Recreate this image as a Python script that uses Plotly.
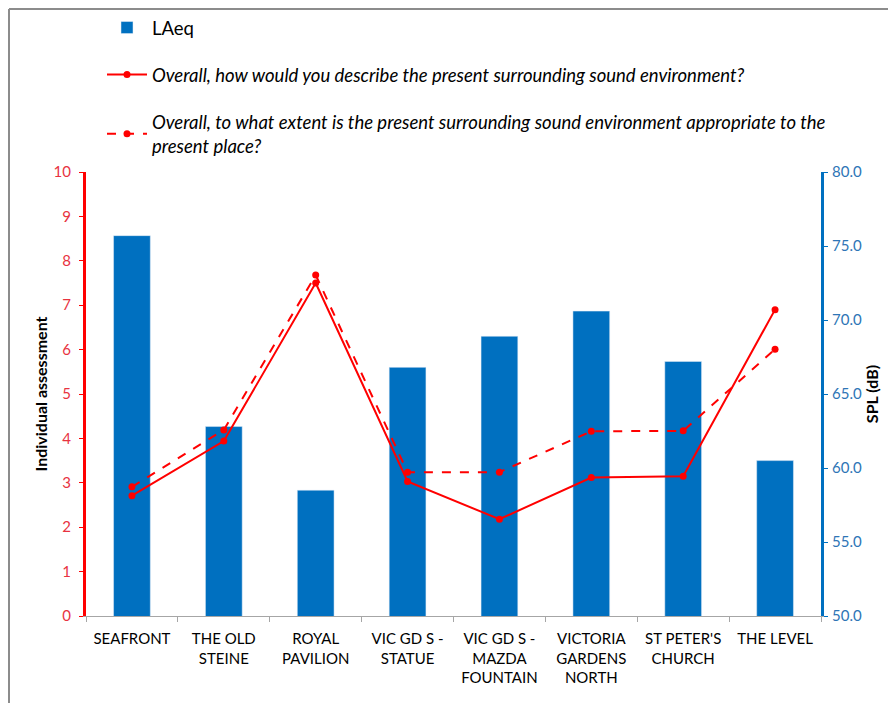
import plotly.graph_objects as go

categories = ["SEAFRONT", "THE OLD<br>STEINE", "ROYAL<br>PAVILION", "VIC GD S -<br>STATUE",
              "VIC GD S -<br>MAZDA<br>FOUNTAIN", "VICTORIA<br>GARDENS<br>NORTH", "ST PETER'S<br>CHURCH", "THE LEVEL"]
laeq = [75.7, 62.8, 58.5, 66.8, 68.9, 70.6, 67.2, 60.5]
describe = [2.71, 3.94, 7.5, 3.03, 2.18, 3.12, 3.15, 6.9]
appropriate = [2.91, 4.19, 7.68, 3.24, 3.24, 4.16, 4.17, 6.01]

name_bar = "LAeq"
name_describe = "<i>Overall, how would you describe the present surrounding sound environment?</i>"
name_approp = "<i>Overall, to what extent is the present surrounding sound environment appropriate to the<br>present place?</i>"

FONT = "Lato, Liberation Sans, sans-serif"
BLUE = "#0070C0"
RED = "#FF0000"

fig = go.Figure()
fig.add_trace(go.Bar(x=categories, y=laeq, name=name_bar, marker_color=BLUE,
                     width=0.4, yaxis="y", legendgroup="a"))
fig.add_trace(go.Scatter(x=categories, y=describe, name=name_describe, mode="lines+markers",
                         line=dict(color=RED, width=2), marker=dict(size=7, color=RED),
                         yaxis="y2", legendgroup="b"))
fig.add_trace(go.Scatter(x=categories, y=appropriate, name=name_approp, mode="lines+markers",
                         line=dict(color=RED, width=2, dash="dash"), marker=dict(size=7, color=RED),
                         yaxis="y2", legendgroup="c"))

# the page adds an 8px body margin, so the figure is sized to fill the remaining window
W, H = 888, 695
L, R, T, B = 78, 75, 164, 87
pw, ph = W - L - R, H - T - B

fig.update_layout(
    width=W, height=H,
    margin=dict(l=L, r=R, t=T, b=B, autoexpand=False),
    paper_bgcolor="white", plot_bgcolor="white",
    font=dict(family=FONT, size=15, color="black"),
    showlegend=True,
    legend=dict(x=(94 - L) / pw, y=(H - B - 1) / ph, xanchor="left", yanchor="top",
                tracegroupgap=20, font=dict(size=18.5, family=FONT), bgcolor="rgba(0,0,0,0)",
                itemwidth=40),
    bargap=0.6,
    xaxis=dict(showline=True, linecolor="#A6A6A6", linewidth=1, ticks="outside",
               tickson="boundaries", ticklen=5, tickcolor="#A6A6A6", tickangle=0,
               automargin=False, ticklabelstandoff=9,
               tickfont=dict(size=15, color="black", family=FONT), showgrid=False),
    yaxis=dict(side="right", range=[50, 80], dtick=5, tickformat=".1f",
               showline=True, linecolor=BLUE, linewidth=3, ticks="outside", ticklen=4,
               tickcolor=BLUE, tickfont=dict(size=15, color="#2E75B6", family=FONT),
               showgrid=False, zeroline=False, automargin=False, ticklabelstandoff=1,
               title=dict(text="<b>SPL (dB)</b>", font=dict(size=16, color="black", family=FONT), standoff=4)),
    yaxis2=dict(overlaying="y", side="left", range=[0, 10], dtick=1,
                showline=True, linecolor=RED, linewidth=3, ticks="outside", ticklen=4,
                tickcolor=RED, tickfont=dict(size=15, color="#E8333F", family=FONT),
                showgrid=False, zeroline=False, automargin=False, ticklabelstandoff=5,
                title=dict(text="<b>Individual assessment</b>", font=dict(size=16, color="black", family=FONT), standoff=2)),
)

# frame lines (top and left edges of the chart area)
fig.add_shape(type="line", xref="paper", yref="paper",
              x0=(1 - L) / pw, x1=(W - L) / pw, y0=(H - B - 1) / ph, y1=(H - B - 1) / ph,
              line=dict(color="#8C8C8C", width=2))
fig.add_shape(type="line", xref="paper", yref="paper",
              x0=(1 - L) / pw, x1=(1 - L) / pw, y0=(H - B - 1) / ph, y1=(H - B - H) / ph,
              line=dict(color="#8C8C8C", width=2))

fig.write_html("out.html")
